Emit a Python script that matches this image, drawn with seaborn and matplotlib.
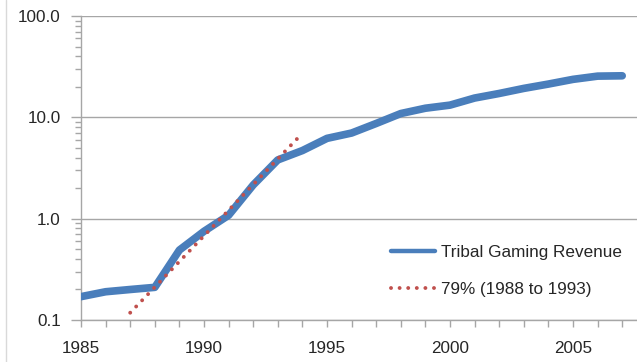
import matplotlib
matplotlib.use("Agg")
import matplotlib.pyplot as plt
import seaborn as sns
import pandas as pd
from matplotlib.ticker import FixedLocator, LogLocator, NullFormatter, FuncFormatter
from matplotlib.lines import Line2D

years = [1985, 1986, 1987, 1988, 1989, 1990, 1991, 1992, 1993, 1994, 1995, 1996,
         1997, 1998, 1999, 2000, 2001, 2002, 2003, 2004, 2005, 2006, 2007]
revenue = [0.17, 0.19, 0.20, 0.21, 0.49, 0.75, 1.08, 2.15, 3.8, 4.7, 6.2, 7.0,
           8.7, 10.9, 12.3, 13.2, 15.5, 17.2, 19.3, 21.3, 23.7, 25.5, 25.7]
trend_years = [1987, 1988, 1989, 1990, 1991, 1992, 1993, 1994]
trend_values = [0.118, 0.211, 0.378, 0.677, 1.21, 2.17, 3.89, 6.96]
series_labels = ["Tribal Gaming Revenue", "79% (1988 to 1993)"]
y_ticks = [0.1, 1.0, 10.0, 100.0]
x_ticks = [1985, 1990, 1995, 2000, 2005]

sns.set_style("white")
plt.rcParams['font.family'] = ['Liberation Sans', 'DejaVu Sans']

fig = plt.figure(figsize=(6.37, 3.62), dpi=100)
ax = fig.add_axes([81/637, 1 - 320/362, 1 - 81/637, (320 - 16)/362])

df = pd.DataFrame({"year": years, "value": revenue})
dt = pd.DataFrame({"year": trend_years, "value": trend_values})

sns.lineplot(data=df, x="year", y="value", ax=ax, color="#4a7ebb", linewidth=5.5,
             solid_capstyle="round", solid_joinstyle="round", label=series_labels[0], zorder=3)
sns.lineplot(data=dt, x="year", y="value", ax=ax, color="#c0504d", linewidth=2.8,
             linestyle=(0, (0.01, 2.2)), dash_capstyle="round", label=series_labels[1], zorder=4)

ax.set_yscale("log")
ax.set_ylim(0.1, 100)
ax.set_xlim(1985, 1985 + 556/24.6)

ax.yaxis.set_major_locator(FixedLocator(y_ticks))
ax.yaxis.set_major_formatter(FuncFormatter(lambda v, p: f"{v:.1f}"))
ax.yaxis.set_minor_locator(LogLocator(base=10, subs=[2, 3, 4, 5, 6, 7, 8, 9]))
ax.yaxis.set_minor_formatter(NullFormatter())
ax.xaxis.set_major_locator(FixedLocator(x_ticks))
ax.xaxis.set_minor_locator(FixedLocator(list(range(1985, 2008))))

ax.grid(True, which="major", axis="y", color="#a6a6a6", linewidth=1.0)
ax.set_axisbelow(True)
for s in ["top", "right"]:
    ax.spines[s].set_visible(False)
for s in ["left", "bottom"]:
    ax.spines[s].set_color("#a6a6a6")
    ax.spines[s].set_linewidth(1.0)

ax.tick_params(axis="both", which="both", direction="out", color="#a6a6a6", width=1.0)
ax.tick_params(axis="y", which="major", length=7, labelsize=12.3, pad=7.5)
ax.tick_params(axis="y", which="minor", length=4)
ax.tick_params(axis="x", which="major", length=5, labelsize=12.3, pad=10)
ax.tick_params(axis="x", which="minor", length=5)
ax.tick_params(left=True, bottom=True, which="both")
ax.set_xlabel("")
ax.set_ylabel("")

leg = ax.legend(loc="lower left", bbox_to_anchor=((391 - 81)/556, (320 - 297)/304),
                frameon=False, fontsize=12.3, handlelength=2.6, handletextpad=0.35,
                labelspacing=1.3, borderpad=0, borderaxespad=0)
leg.get_lines()[0].set_linewidth(3.2)

fig.add_artist(Line2D([6/637, 6/637], [0, 1], color="#d9d9d9", linewidth=1.0))

fig.savefig("out.png", dpi=100)
